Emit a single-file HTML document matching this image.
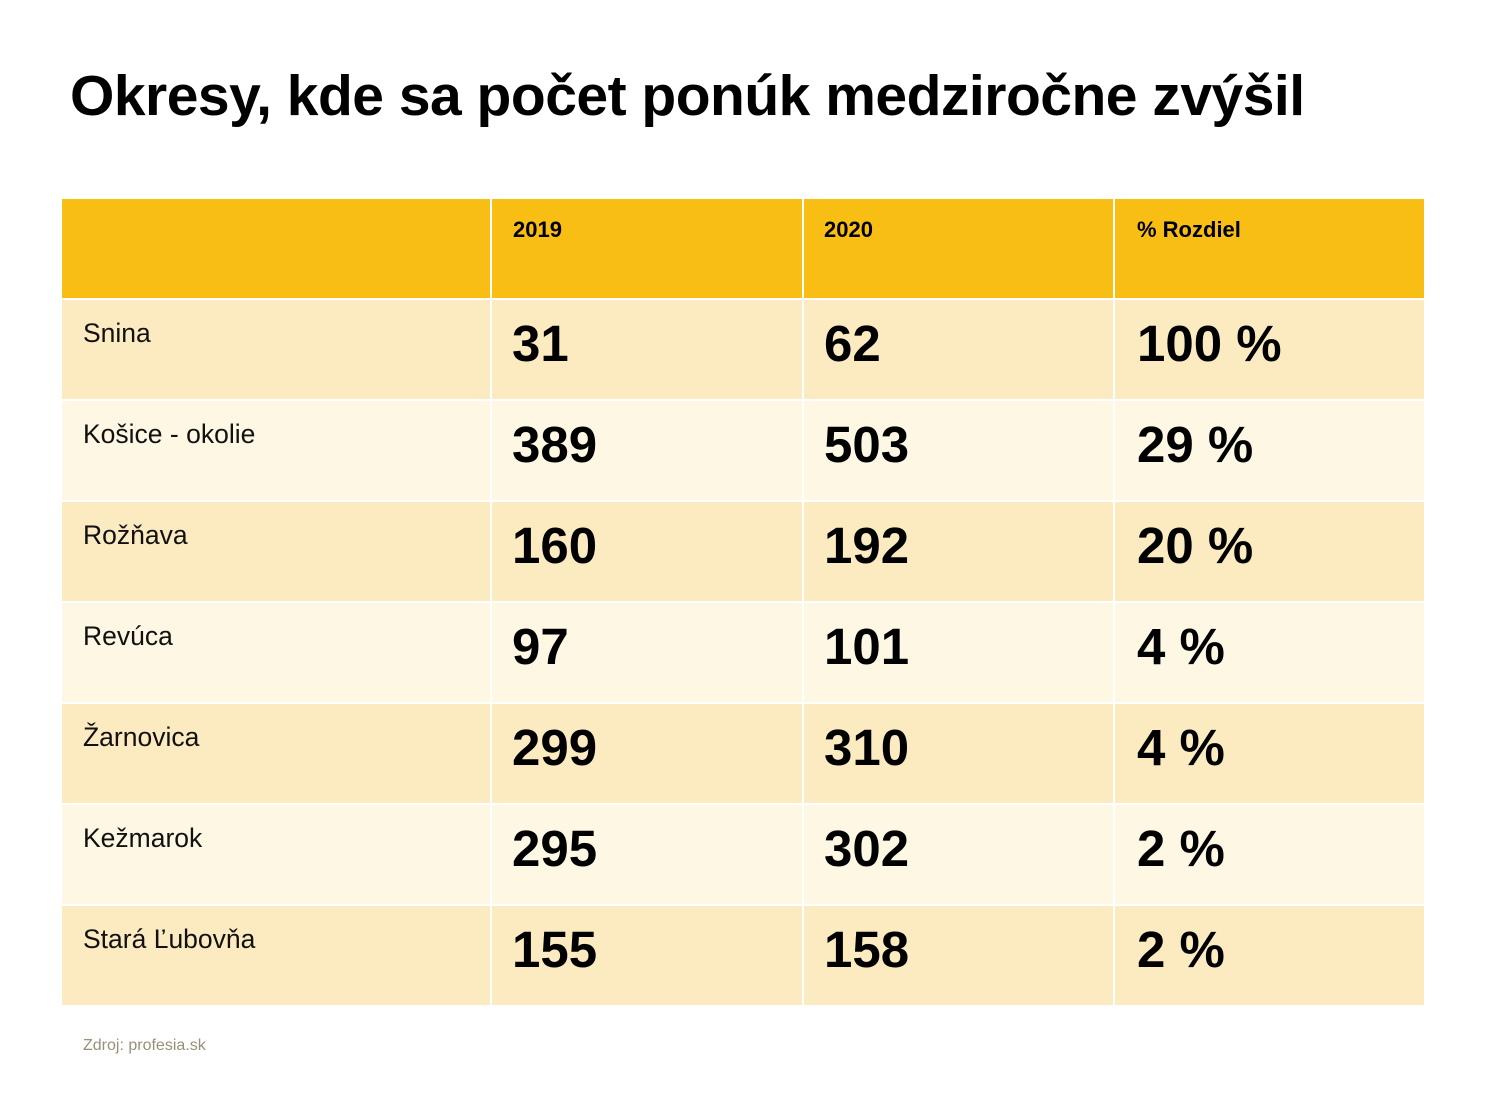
<!DOCTYPE html>
<html><head><meta charset="utf-8"><style>
body{margin:0;width:1500px;height:1119px;background:#fff;position:relative;font-family:"Liberation Sans",sans-serif;overflow:hidden}
.t{position:absolute;left:70px;top:63px;font-size:57px;font-weight:bold;color:#000;white-space:nowrap;letter-spacing:-0.5px}
.c{position:absolute;box-sizing:border-box}
.h{background:#F9BE14}
.d{background:#FCEAC0}
.l{background:#FEF7E3}
.ht{position:absolute;font-size:22px;font-weight:bold;top:217px}
.lab{position:absolute;left:83px;font-size:26.5px;color:#111}
.n{position:absolute;font-size:51px;font-weight:bold;color:#000}
.src{position:absolute;left:83px;top:1037px;font-size:16px;color:#9a8f78}
</style></head><body>
<div class="t">Okresy, kde sa počet ponúk medziročne zvýšil</div>
<div class="c h" style="left:62px;top:199px;width:428px;height:99px"></div>
<div class="c h" style="left:492px;top:199px;width:310px;height:99px"></div>
<div class="c h" style="left:804px;top:199px;width:309px;height:99px"></div>
<div class="c h" style="left:1115px;top:199px;width:309px;height:99px"></div>
<div class="ht" style="left:513px">2019</div>
<div class="ht" style="left:824px">2020</div>
<div class="ht" style="left:1137px">% Rozdiel</div>
<div id="rows"></div>
<script>
var data=[["Snina","31","62","100 %"],["Košice - okolie","389","503","29 %"],["Rožňava","160","192","20 %"],["Revúca","97","101","4 %"],["Žarnovica","299","310","4 %"],["Kežmarok","295","302","2 %"],["Stará Ľubovňa","155","158","2 %"]];
var h="";
data.forEach(function(r,i){var top=300+i*101;var cl=i%2?"l":"d";
h+='<div class="c '+cl+'" style="left:62px;top:'+top+'px;width:428px;height:99px"></div>';
h+='<div class="c '+cl+'" style="left:492px;top:'+top+'px;width:310px;height:99px"></div>';
h+='<div class="c '+cl+'" style="left:804px;top:'+top+'px;width:309px;height:99px"></div>';
h+='<div class="c '+cl+'" style="left:1115px;top:'+top+'px;width:309px;height:99px"></div>';
h+='<div class="lab" style="top:'+(top+18)+'px">'+r[0]+'</div>';
h+='<div class="n" style="left:512px;top:'+(top+14)+'px">'+r[1]+'</div>';
h+='<div class="n" style="left:824px;top:'+(top+14)+'px">'+r[2]+'</div>';
h+='<div class="n" style="left:1137px;top:'+(top+14)+'px">'+r[3]+'</div>';});
document.getElementById("rows").innerHTML=h;
</script>
<div class="src">Zdroj: profesia.sk</div>
</body></html>
